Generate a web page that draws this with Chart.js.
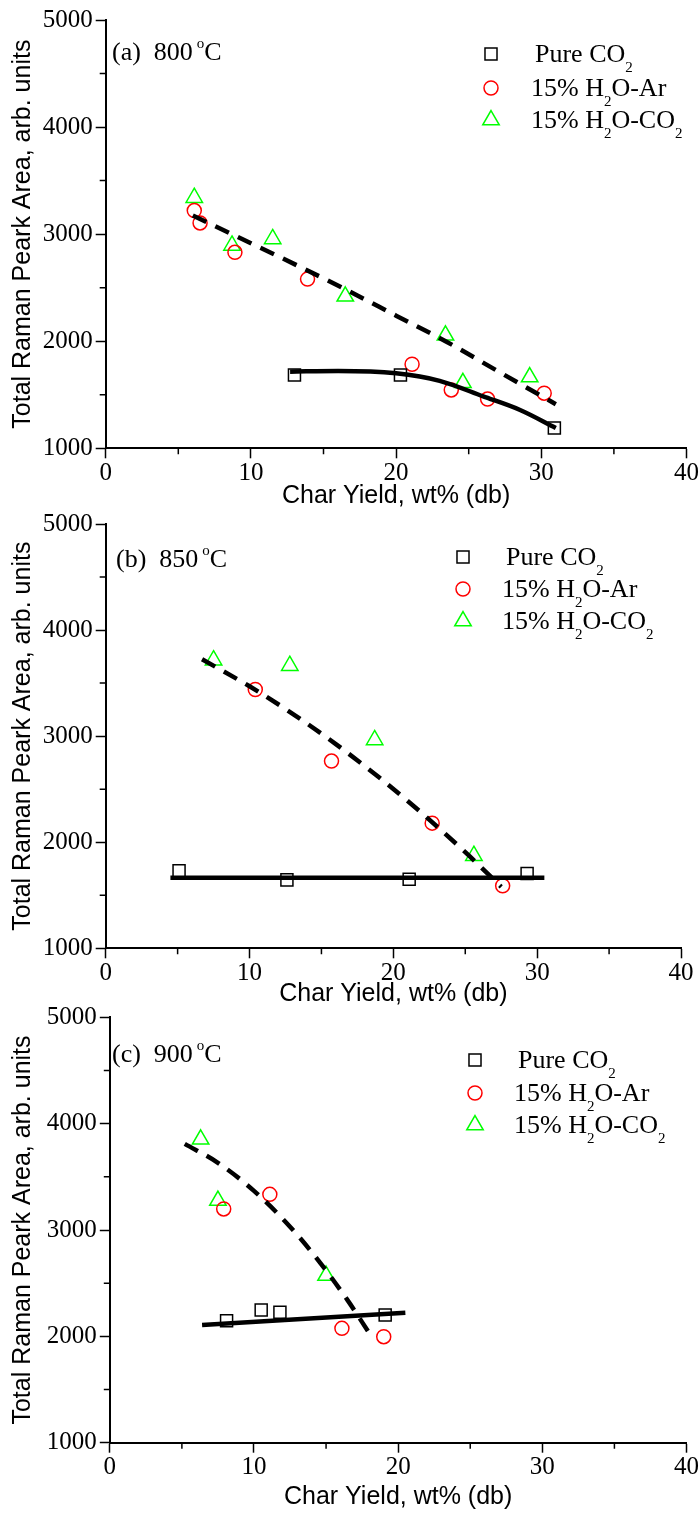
<!DOCTYPE html>
<html>
<head>
<meta charset="utf-8">
<script src="https://cdn.jsdelivr.net/npm/chart.js@4.4.1/dist/chart.umd.min.js"></script>
<style>
  html, body { margin: 0; padding: 0; background: #fff; }
  body { width: 699px; height: 1515px; position: relative; overflow: hidden; }
  canvas { position: absolute; left: 0; }
</style>
</head>
<body>
<canvas id="panelA"></canvas>
<canvas id="panelB"></canvas>
<canvas id="panelC"></canvas>
<script>
// legend names, panel labels, axes
const seriesNames = ['Pure CO₂', '15% H₂O-Ar', '15% H₂O-CO₂'];
const panelLetters = ['(a)', '(b)', '(c)'];
const temperatures = [800, 850, 900];
const xTicks = [0, 10, 20, 30, 40];
const xMinor = [5, 15, 25, 35];
const yTicks = [1000, 2000, 3000, 4000, 5000];
const yMinor = [1500, 2500, 3500, 4500];
const xTitle = 'Char Yield, wt% (db)';
const yTitle = 'Total Raman Peark Area, arb. units';

// (a) 800 C
const co2A_x = [13.0, 20.3, 30.9];
const co2A_y = [1685, 1685, 1190];
const arA_x = [6.1, 6.5, 8.9, 13.9, 21.1, 23.8, 26.3, 30.2];
const arA_y = [3220, 3105, 2830, 2580, 1785, 1545, 1460, 1515];
const mixA_x = [6.1, 8.7, 11.5, 16.5, 23.4, 24.6, 29.2];
const mixA_y = [3341, 2895, 2955, 2420, 2055, 1612, 1665];
const solidA_x = [12.7, 16, 20, 23, 26, 28.5, 31];
const solidA_y = [1716, 1722, 1700, 1630, 1485, 1360, 1190];
const dashA_x = [6, 9.5, 13, 16.5, 20, 23.5, 27, 31];
const dashA_y = [3175, 2947, 2720, 2485, 2239, 1993, 1721, 1412];

// (b) 850 C
const co2B_x = [5.1, 12.6, 21.1, 29.3];
const co2B_y = [1730, 1645, 1650, 1705];
const arB_x = [10.4, 15.7, 22.7, 27.6];
const arB_y = [3440, 2765, 2180, 1590];
const mixB_x = [7.5, 12.8, 18.7, 25.6];
const mixB_y = [3716, 3664, 2964, 1873];
const solidB_x = [4.5, 30.5];
const solidB_y = [1666, 1666];
const dashB_x = [6.7, 10, 13, 16, 19, 22, 25, 27.5];
const dashB_y = [3725, 3470, 3211, 2925, 2612, 2272, 1906, 1580];

// (c) 900 C
const co2C_x = [8.1, 10.5, 11.8, 19.1];
const co2C_y = [2147, 2248, 2226, 2201];
const arC_x = [7.9, 11.1, 16.1, 19.0];
const arC_y = [3198, 3335, 2075, 1997];
const mixC_x = [6.3, 7.5, 15.0];
const mixC_y = [3853, 3277, 2571];
const solidC_x = [6.4, 20.5];
const solidC_y = [2107, 2223];
const dashC_x = [5.2, 7.5, 10, 12.5, 14.5, 16.5, 18.0];
const dashC_y = [3810, 3632, 3368, 3031, 2708, 2338, 2030];

const panels = [
  { id: 'panelA', top: 0, height: 515, left: 105.7, areaTop: 20, areaBottom: 448.3, padRight: 0,
    label: [112, 60], legendX: 491, textX: 531, rows: [54, 88, 120],
    series: [[co2A_x, co2A_y], [arA_x, arA_y], [mixA_x, mixA_y]],
    solid: [solidA_x, solidA_y], dashed: [dashA_x, dashA_y] },
  { id: 'panelB', top: 500, height: 513, left: 105.7, areaTop: 24, areaBottom: 448.3, padRight: 18,
    label: [116, 67], legendX: 463, textX: 502, rows: [57, 89, 121],
    series: [[co2B_x, co2B_y], [arB_x, arB_y], [mixB_x, mixB_y]],
    solid: [solidB_x, solidB_y], dashed: [dashB_x, dashB_y] },
  { id: 'panelC', top: 995, height: 521, left: 109.8, areaTop: 22.3, areaBottom: 447.7, padRight: 0,
    label: [112, 67], legendX: 475, textX: 514, rows: [65, 98, 130],
    series: [[co2C_x, co2C_y], [arC_x, arC_y], [mixC_x, mixC_y]],
    solid: [solidC_x, solidC_y], dashed: [dashC_x, dashC_y] }
];

const markerStyles = [
  { pointStyle: 'rect', radius: 8.5, color: '#000000' },
  { pointStyle: 'circle', radius: 7, color: '#ff0000' },
  { pointStyle: 'triangle', radius: 9.5, color: '#00ff00' }
];

function toPoints(xs, ys) {
  return xs.map((x, i) => ({ x: x, y: ys[i] }));
}

// text with subscript digits (₂)
function drawSubText(ctx, text, x, y, size) {
  let cx = x;
  text.split(/([₀-₉])/).forEach(part => {
    if (!part) return;
    if (/[₀-₉]/.test(part)) {
      const digit = String(part.charCodeAt(0) - 0x2080);
      ctx.font = Math.round(size * 0.58) + 'px "Liberation Serif"';
      ctx.fillText(digit, cx, y + size * 0.38);
      cx += ctx.measureText(digit).width;
    } else {
      ctx.font = size + 'px "Liberation Serif"';
      ctx.fillText(part, cx, y);
      cx += ctx.measureText(part).width;
    }
  });
}

const minorTicks = {
  id: 'minorTicks',
  afterDraw(chart) {
    const ctx = chart.ctx;
    const xs = chart.scales.x, ys = chart.scales.y;
    ctx.save();
    ctx.strokeStyle = '#000';
    ctx.lineWidth = 1.5;
    ctx.beginPath();
    xMinor.forEach(v => {
      const px = xs.getPixelForValue(v);
      ctx.moveTo(px, xs.top);
      ctx.lineTo(px, xs.top + 6);
    });
    yMinor.forEach(v => {
      const py = ys.getPixelForValue(v);
      ctx.moveTo(ys.right, py);
      ctx.lineTo(ys.right - 6, py);
    });
    ctx.stroke();
    ctx.restore();
  }
};

function decorPlugin(p, idx) {
  return {
    id: 'decor',
    afterDraw(chart) {
      const ctx = chart.ctx;
      ctx.save();
      ctx.fillStyle = '#000';
      ctx.textBaseline = 'alphabetic';
      ctx.textAlign = 'left';
      // panel label e.g. (a)  800 oC
      const size = 26;
      ctx.font = size + 'px "Liberation Serif"';
      let lx = p.label[0];
      const main = panelLetters[idx] + '  ' + temperatures[idx];
      ctx.fillText(main, lx, p.label[1]);
      lx += ctx.measureText(main).width + 4;
      ctx.font = '15px "Liberation Serif"';
      ctx.fillText('o', lx, p.label[1] - 12);
      lx += ctx.measureText('o').width;
      ctx.font = size + 'px "Liberation Serif"';
      ctx.fillText('C', lx, p.label[1]);

      // legend
      markerStyles.forEach((m, i) => {
        const y = p.rows[i];
        ctx.strokeStyle = m.color;
        ctx.fillStyle = 'rgba(0,0,0,0)';
        ctx.lineWidth = 1.5;
        Chart.helpers.drawPoint(ctx, { pointStyle: m.pointStyle, radius: m.radius, rotation: 0, borderWidth: 1.5 }, p.legendX, y);
        ctx.fillStyle = '#000';
        drawSubText(ctx, seriesNames[i], p.textX + (i === 0 ? 4 : 0), y + 8, 26);
      });
      ctx.restore();
    }
  };
}

panels.forEach((p, idx) => {
  const cv = document.getElementById(p.id);
  cv.width = 699;
  cv.height = p.height;
  cv.style.top = p.top + 'px';

  const datasets = [
    { data: toPoints(p.solid[0], p.solid[1]), showLine: true, borderColor: '#000', borderWidth: 4.5,
      pointRadius: 0, cubicInterpolationMode: 'monotone', fill: false },
    { data: toPoints(p.dashed[0], p.dashed[1]), showLine: true, borderColor: '#000', borderWidth: 4.5,
      borderDash: [15, 10], pointRadius: 0, cubicInterpolationMode: 'monotone', fill: false }
  ];
  p.series.forEach((s, i) => {
    const m = markerStyles[i];
    datasets.push({
      label: seriesNames[i],
      data: toPoints(s[0], s[1]),
      showLine: false,
      pointStyle: m.pointStyle,
      pointRadius: m.radius,
      pointHoverRadius: m.radius,
      pointBorderColor: m.color,
      pointBackgroundColor: 'rgba(0,0,0,0)',
      pointBorderWidth: 1.5,
      borderColor: m.color
    });
  });

  new Chart(cv, {
    type: 'scatter',
    data: { datasets: datasets },
    options: {
      responsive: false,
      animation: false,
      devicePixelRatio: 1,
      layout: { padding: { top: p.areaTop, right: p.padRight, left: 0, bottom: 0 } },
      plugins: { legend: { display: false }, tooltip: { enabled: false } },
      scales: {
        x: {
          type: 'linear',
          min: xTicks[0],
          max: xTicks[xTicks.length - 1],
          afterBuildTicks: s => { s.ticks = xTicks.map(v => ({ value: v })); },
          afterFit: s => { s.height = p.height - p.areaBottom; },
          border: { display: true, color: '#000', width: 2 },
          grid: { drawOnChartArea: false, drawTicks: true, tickLength: 10, tickColor: '#000', tickWidth: 1.5 },
          ticks: { color: '#000', font: { family: 'Liberation Serif', size: 25 }, padding: 0, maxRotation: 0,
                   autoSkip: false, callback: v => String(v) },
          title: { display: true, text: xTitle, color: '#000', font: { family: 'Liberation Sans', size: 25 },
                   padding: { top: 0, bottom: 4 } }
        },
        y: {
          type: 'linear',
          min: yTicks[0],
          max: yTicks[yTicks.length - 1],
          afterBuildTicks: s => { s.ticks = yTicks.map(v => ({ value: v })); },
          afterFit: s => { s.width = p.left; },
          border: { display: true, color: '#000', width: 2 },
          grid: { drawOnChartArea: false, drawTicks: true, tickLength: 10, tickColor: '#000', tickWidth: 1.5 },
          ticks: { color: '#000', font: { family: 'Liberation Serif', size: 25 }, padding: 3, autoSkip: false,
                   callback: v => String(v) },
          title: { display: true, text: yTitle, color: '#000', font: { family: 'Liberation Sans', size: 25 },
                   padding: { top: 8, bottom: 0 } }
        }
      }
    },
    plugins: [minorTicks, decorPlugin(p, idx)]
  });
});
</script>
</body>
</html>
